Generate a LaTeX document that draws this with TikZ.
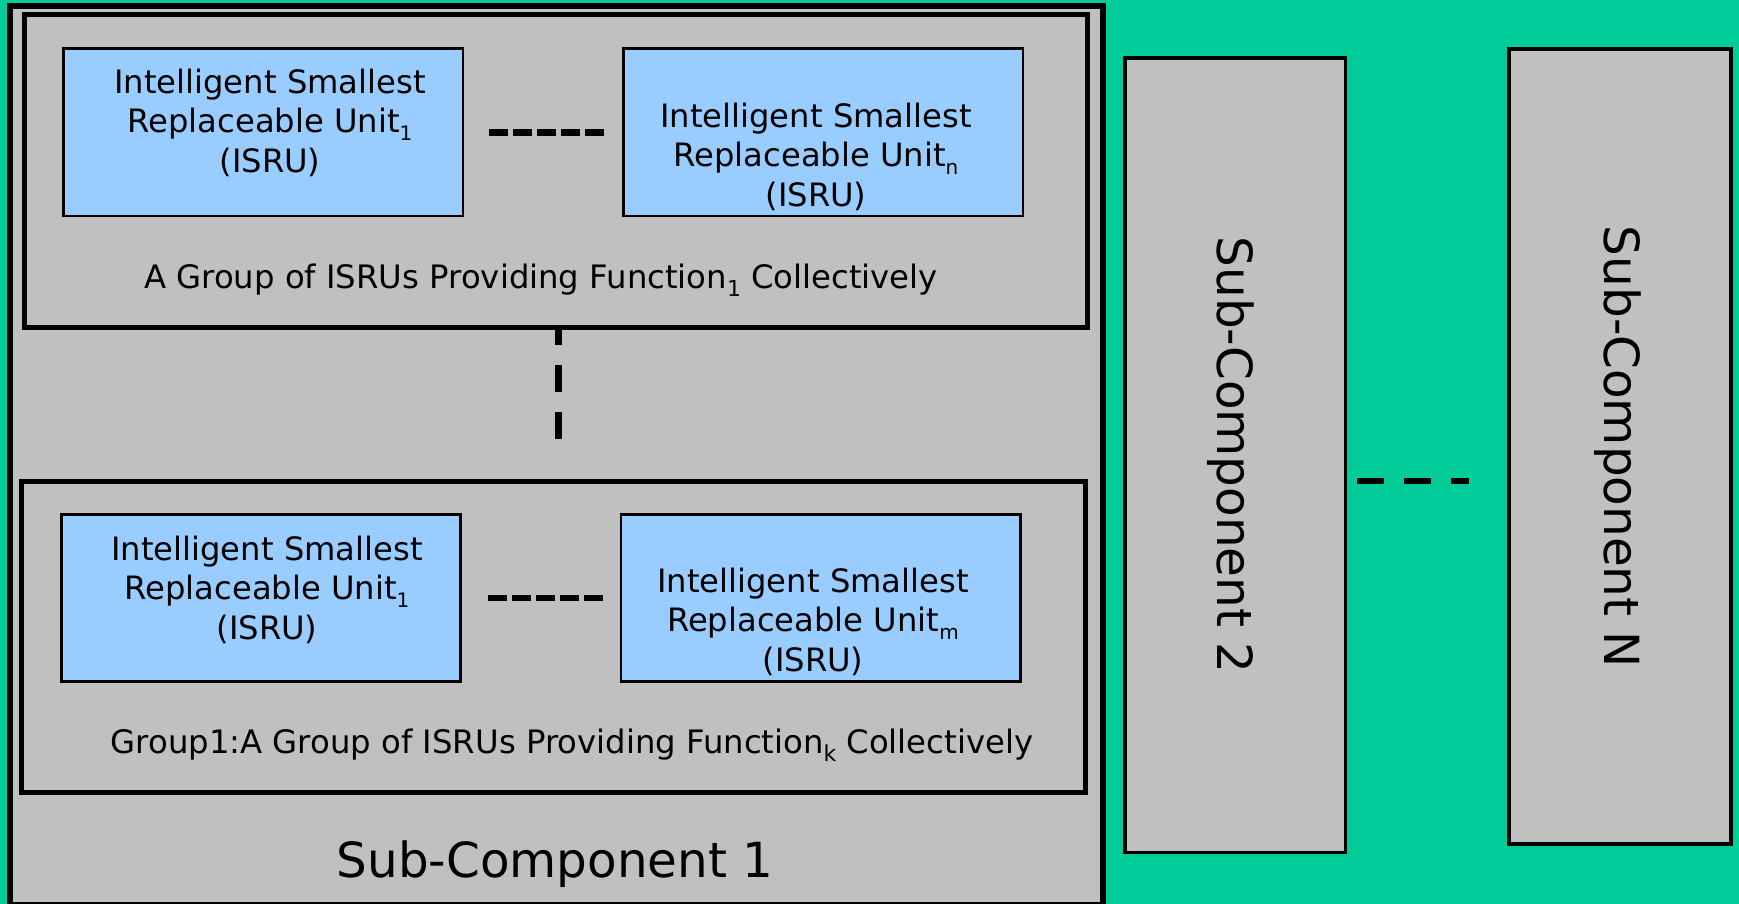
\documentclass[tikz,border=0pt]{standalone}
\usepackage{fontspec}
\setmainfont{DejaVu Sans}
\definecolor{bggreen}{HTML}{00CC99}
\definecolor{boxgray}{HTML}{C0C0C0}
\definecolor{isrublue}{HTML}{99CCFF}
\newcommand\isub[1]{\raisebox{-7.5pt}{\fontsize{20}{20}\selectfont #1}}
\newcommand\gsub[1]{\raisebox{-8pt}{\fontsize{22}{22}\selectfont #1}}
\tikzset{
  bigbox/.style={draw=black, fill=boxgray, line width=6pt, inner sep=0pt, outer sep=0pt},
  groupbox/.style={draw=black, fill=boxgray, line width=5pt, inner sep=0pt, outer sep=0pt},
  isrubox/.style={draw=black, fill=isrublue, line width=2.5pt, inner sep=0pt, outer sep=0pt},
  sidebox/.style={draw=black, fill=boxgray, line width=3.5pt, inner sep=0pt, outer sep=0pt},
  isrutext/.style={inner sep=0pt, align=center, font=\fontsize{32.2}{39.5}\selectfont},
  grouptext/.style={inner sep=0pt, anchor=base, font=\fontsize{32.3}{39.5}\selectfont},
  sctext/.style={inner sep=0pt, anchor=base, font=\fontsize{48.4}{56}\selectfont},
  hdash/.style={line width=6.5pt, dash pattern=on 19pt off 5pt},
  vdash/.style={line width=6.5pt, dash pattern=on 27pt off 20pt, dash phase=9pt},
  rdash/.style={line width=6pt, dash pattern=on 27pt off 20pt}
}
\begin{document}
\begin{tikzpicture}[x=1pt,y=-1pt]
\useasboundingbox (0,0) rectangle (1739,904);
\clip (0,0) rectangle (1739,904);
\fill[bggreen] (0,0) rectangle (1739,904);

% Sub-Component 1
\node[bigbox, minimum width=1093.5pt, minimum height=899pt] (sc1) at (556.25,455.5) {};

% Group 1 (top)
\node[groupbox, minimum width=1063pt, minimum height=312.5pt] (g1) at (555.5,171.25) {};
\node[isrubox, minimum width=399.5pt, minimum height=167.5pt] (u1a) at (263.25,132.25) {};
\node[isrubox, minimum width=399.5pt, minimum height=167.5pt] (una) at (823.25,132.25) {};
\node[isrutext] (t1a) at (270,122.5) {Intelligent Smallest\\Replaceable Unit\isub{1}\\(ISRU)};
\node[isrutext] (tna) at (816,156.5) {Intelligent Smallest\\Replaceable Unit\isub{n}\\(ISRU)};
\node[grouptext] (g1t) at (541,288) {A Group of ISRUs Providing Function\gsub{1} Collectively};
\coordinate (d1s) at (489,132.5);
\coordinate (d1e) at (604,132.5);
\draw[hdash] (d1s) -- (d1e);

% vertical dashes between groups
\coordinate (vds) at (558.5,327);
\coordinate (vde) at (558.5,438.5);
\draw[vdash] (vds) -- (vde);

% Group k (bottom)
\node[groupbox, minimum width=1064pt, minimum height=311pt] (g2) at (553,636.5) {};
\node[isrubox, minimum width=399pt, minimum height=167pt] (u1b) at (261,598) {};
\node[isrubox, minimum width=399.5pt, minimum height=167pt] (umb) at (820.75,598) {};
\node[isrutext] (t1b) at (267,589.5) {Intelligent Smallest\\Replaceable Unit\isub{1}\\(ISRU)};
\node[isrutext] (tmb) at (813,621.5) {Intelligent Smallest\\Replaceable Unit\isub{m}\\(ISRU)};
\node[grouptext] (g2t) at (572,753) {Group1:A Group of ISRUs Providing Function\gsub{k} Collectively};
\coordinate (d2s) at (488,598);
\coordinate (d2e) at (603,598);
\draw[hdash] (d2s) -- (d2e);

\node[sctext] (sc1t) at (555,877) {Sub-Component 1};

% Sub-Component 2 and N
\node[sidebox, minimum width=220.5pt, minimum height=794.5pt] (sc2) at (1235.25,455.25) {};
\node[sidebox, minimum width=222pt, minimum height=795pt] (scn) at (1620,446.5) {};
\node[sctext, rotate=-90] (sc2t) at (1217,455) {Sub-Component 2};
\node[sctext, rotate=-90] (scnt) at (1604,447) {Sub-Component N};
\coordinate (d3s) at (1357,481);
\coordinate (d3e) at (1469,481);
\draw[rdash] (d3s) -- (d3e);
\end{tikzpicture}
\end{document}
